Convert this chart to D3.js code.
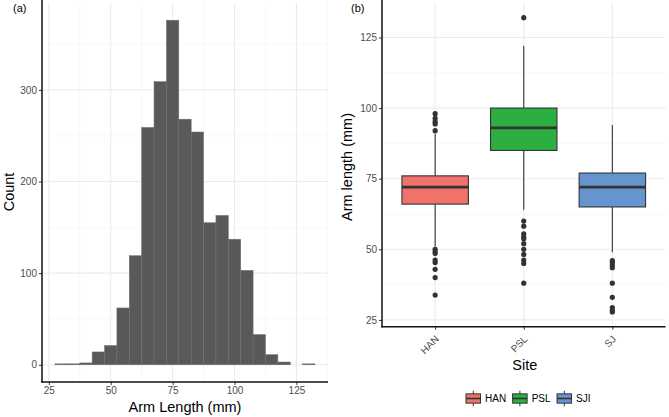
<!DOCTYPE html>
<html><head><meta charset="utf-8">
<script src="https://cdn.jsdelivr.net/npm/d3@7"></script>
<style>
body{margin:0;background:#fff;}
svg{display:block;font-family:"Liberation Sans",Arial,sans-serif;}
</style></head>
<body><svg id="c" width="669" height="417"></svg>
<script>
// ---------- DATA ----------
// Histogram (binwidth 5): bin start values and counts
const binStarts = [27.5,32.5,37.5,42.5,47.5,52.5,57.5,62.5,67.5,72.5,77.5,82.5,87.5,92.5,97.5,102.5,107.5,112.5,117.5,122.5,127.5];
const binCounts = [1,1,2,14,21,62,119,259,309,376,268,254,155,163,137,103,33,11,3,0,1];
const histXTicks = [25,50,75,100,125];
const histYTicks = [0,100,200,300];

// Boxplot by site
const sites = ["HAN","PSL","SJI"];
const siteTickLabels = ["HAN","PSL","SJ"];
const q1 = [66,85,65];
const med = [72,93,72];
const q3 = [76,100,77];
const whiskLo = [51,64,49];
const whiskHi = [91,122,94];
const outHAN = [98,96.4,95.2,94.4,92,50,49.1,48.5,46.2,45.3,42.9,40,33.8];
const outPSL = [132,60,58.2,55.5,54.4,53.7,52,50,48.2,46.2,45,38];
const outSJI = [46,45.3,44.4,43.5,38,33,29.4,28.4,27.8];
const siteColors = ["#EF736A","#2DAE40","#6594CF"];
const boxYTicks = [25,50,75,100,125];

// ---------- DRAW ----------
const svg = d3.select("#c");
const tickCol = "#4d4d4d", gridMaj = "#ebebeb", gridMin = "#f3f3f3";

// ===== Panel (a) =====
const aL = 42, aR = 328, aT = 3, aB = 382;
const xa = d3.scaleLinear().domain([22.25,137.75]).range([aL,aR]);
const ya = d3.scaleLinear().domain([-18.8,394.8]).range([aB,aT]);
const ga = svg.append("g");
// minor grid
const xMinA = [37.5,62.5,87.5,112.5,137.5].filter(v=>v<=137.75);
const yMinA = [50,150,250,350];
ga.selectAll(".xmin").data(xMinA).join("line").attr("x1",d=>xa(d)).attr("x2",d=>xa(d)).attr("y1",aT).attr("y2",aB).attr("stroke",gridMin).attr("stroke-width",0.6);
ga.selectAll(".ymin").data(yMinA).join("line").attr("y1",d=>ya(d)).attr("y2",d=>ya(d)).attr("x1",aL).attr("x2",aR).attr("stroke",gridMin).attr("stroke-width",0.6);
ga.selectAll(".xmaj").data(histXTicks).join("line").attr("x1",d=>xa(d)).attr("x2",d=>xa(d)).attr("y1",aT).attr("y2",aB).attr("stroke",gridMaj).attr("stroke-width",1.1);
ga.selectAll(".ymaj").data(histYTicks).join("line").attr("y1",d=>ya(d)).attr("y2",d=>ya(d)).attr("x1",aL).attr("x2",aR).attr("stroke",gridMaj).attr("stroke-width",1.1);
// bars
const bins = binStarts.map((s,i)=>({s, c:binCounts[i]})).filter(d=>d.c>0);
ga.selectAll("rect.bar").data(bins).join("rect").attr("class","bar")
  .attr("x",d=>xa(d.s)).attr("width",d=>xa(d.s+5)-xa(d.s))
  .attr("y",d=>ya(d.c)).attr("height",d=>ya(0)-ya(d.c))
  .attr("fill","#595959").attr("stroke","#6e6e6e").attr("stroke-width",0.5);
// axes
const axXa = d3.axisBottom(xa).tickValues(histXTicks).tickSize(3).tickPadding(2);
const gxa = ga.append("g").attr("transform",`translate(0,${aB})`).call(axXa);
const axYa = d3.axisLeft(ya).tickValues(histYTicks).tickSize(3).tickPadding(2);
const gya = ga.append("g").attr("transform",`translate(${aL},0)`).call(axYa);
[gxa,gya].forEach(g=>{
  g.select(".domain").remove();
  g.selectAll(".tick line").attr("stroke","#333");
  g.selectAll(".tick text").attr("fill",tickCol).style("font-size","10px").style("font-family","Liberation Sans, Arial, sans-serif");
});
ga.append("line").attr("x1",aL).attr("x2",aL).attr("y1",aT-3).attr("y2",aB+0.75).attr("stroke","#111").attr("stroke-width",1.5);
ga.append("line").attr("x1",aL-0.75).attr("x2",aR).attr("y1",aB).attr("y2",aB).attr("stroke","#111").attr("stroke-width",1.5);
ga.append("text").attr("x",185).attr("y",412).attr("text-anchor","middle").style("font-size","14.5px").attr("fill","#000").text("Arm Length (mm)");
ga.append("text").attr("transform","translate(14,192) rotate(-90)").attr("text-anchor","middle").style("font-size","14.5px").attr("fill","#000").text("Count");
ga.append("text").attr("x",13).attr("y",12).style("font-size","11px").attr("fill","#000").text("(a)");

// ===== Panel (b) =====
const bL = 382, bR = 665.5, bT = 3, bB = 326.7;
const xb = d3.scalePoint().domain(sites).range([bL,bR]).padding(0.6);
const yb = d3.scaleLinear().domain([22.6,137.2]).range([bB,bT]);
const gb = svg.append("g");
const yMinB = [37.5,62.5,87.5,112.5,137.5].filter(v=>v<=137.2);
gb.selectAll(".ymin").data(yMinB).join("line").attr("y1",d=>yb(d)).attr("y2",d=>yb(d)).attr("x1",bL).attr("x2",bR).attr("stroke",gridMin).attr("stroke-width",0.6);
gb.selectAll(".ymaj").data(boxYTicks).join("line").attr("y1",d=>yb(d)).attr("y2",d=>yb(d)).attr("x1",bL).attr("x2",bR).attr("stroke",gridMaj).attr("stroke-width",1.1);
gb.selectAll(".xmaj").data(sites).join("line").attr("x1",d=>xb(d)).attr("x2",d=>xb(d)).attr("y1",bT).attr("y2",bB).attr("stroke",gridMaj).attr("stroke-width",1.1);

const boxes = sites.map((s,i)=>({s,i,q1:q1[i],med:med[i],q3:q3[i],lo:whiskLo[i],hi:whiskHi[i],col:siteColors[i]}));
const bw = xb.step()*0.75;
const line = "#333333";
const bg = gb.selectAll("g.box").data(boxes).join("g").attr("class","box");
bg.append("line").attr("x1",d=>xb(d.s)).attr("x2",d=>xb(d.s)).attr("y1",d=>yb(d.hi)).attr("y2",d=>yb(d.q3)).attr("stroke",line).attr("stroke-width",1.1);
bg.append("line").attr("x1",d=>xb(d.s)).attr("x2",d=>xb(d.s)).attr("y1",d=>yb(d.q1)).attr("y2",d=>yb(d.lo)).attr("stroke",line).attr("stroke-width",1.1);
bg.append("rect").attr("x",d=>xb(d.s)-bw/2).attr("width",bw).attr("y",d=>yb(d.q3)).attr("height",d=>yb(d.q1)-yb(d.q3))
  .attr("fill",d=>d.col).attr("stroke",line).attr("stroke-width",1.1);
bg.append("line").attr("x1",d=>xb(d.s)-bw/2).attr("x2",d=>xb(d.s)+bw/2).attr("y1",d=>yb(d.med)).attr("y2",d=>yb(d.med)).attr("stroke",line).attr("stroke-width",2.6);
const outs = [outHAN,outPSL,outSJI].flatMap((arr,i)=>arr.map(v=>({s:sites[i],v})));
gb.selectAll("circle.out").data(outs).join("circle").attr("class","out")
  .attr("cx",d=>xb(d.s)).attr("cy",d=>yb(d.v)).attr("r",2.6).attr("fill",line);

const axYb = d3.axisLeft(yb).tickValues(boxYTicks).tickSize(3).tickPadding(2);
const gyb = gb.append("g").attr("transform",`translate(${bL},0)`).call(axYb);
const axXb = d3.axisBottom(xb).tickSize(3).tickFormat((d,i)=>siteTickLabels[i]);
const gxb = gb.append("g").attr("transform",`translate(0,${bB})`).call(axXb);
[gxb,gyb].forEach(g=>{
  g.select(".domain").remove();
  g.selectAll(".tick line").attr("stroke","#333");
  g.selectAll(".tick text").attr("fill",tickCol).style("font-size","10px").style("font-family","Liberation Sans, Arial, sans-serif");
});
gxb.selectAll(".tick text").attr("text-anchor","end").attr("dy",0).attr("y",0)
  .attr("transform","translate(4,13) rotate(-45)");
gb.append("line").attr("x1",bL).attr("x2",bL).attr("y1",bT-3).attr("y2",bB+0.75).attr("stroke","#111").attr("stroke-width",1.5);
gb.append("line").attr("x1",bL-0.75).attr("x2",bR).attr("y1",bB).attr("y2",bB).attr("stroke","#111").attr("stroke-width",1.5);
gb.append("text").attr("x",xb("PSL")+1).attr("y",370).attr("text-anchor","middle").style("font-size","14.5px").attr("fill","#000").text("Site");
gb.append("text").attr("transform","translate(352,167) rotate(-90)").attr("text-anchor","middle").style("font-size","14.5px").attr("fill","#000").text("Arm length (mm)");
gb.append("text").attr("x",351).attr("y",12).style("font-size","11px").attr("fill","#000").text("(b)");

// legend
const lg = svg.append("g");
let lx = 465.5; const ly = 398.5, ks = 15.5;
sites.forEach((s,i)=>{
  const g = lg.append("g").attr("transform",`translate(${lx},${ly-ks/2})`);
  g.append("line").attr("x1",ks/2).attr("x2",ks/2).attr("y1",0).attr("y2",ks).attr("stroke",line).attr("stroke-width",1);
  g.append("rect").attr("x",0.5).attr("y",ks*0.2).attr("width",ks-1).attr("height",ks*0.6).attr("fill",siteColors[i]).attr("stroke",line).attr("stroke-width",1);
  g.append("line").attr("x1",0.5).attr("x2",ks-0.5).attr("y1",ks/2).attr("y2",ks/2).attr("stroke",line).attr("stroke-width",1.6);
  const t = lg.append("text").attr("x",lx+ks+4).attr("y",ly+3.6).style("font-size","10px").attr("fill","#000").text(s);
  lx += ks + 4 + t.node().getComputedTextLength() + 6;
});
</script></body></html>
